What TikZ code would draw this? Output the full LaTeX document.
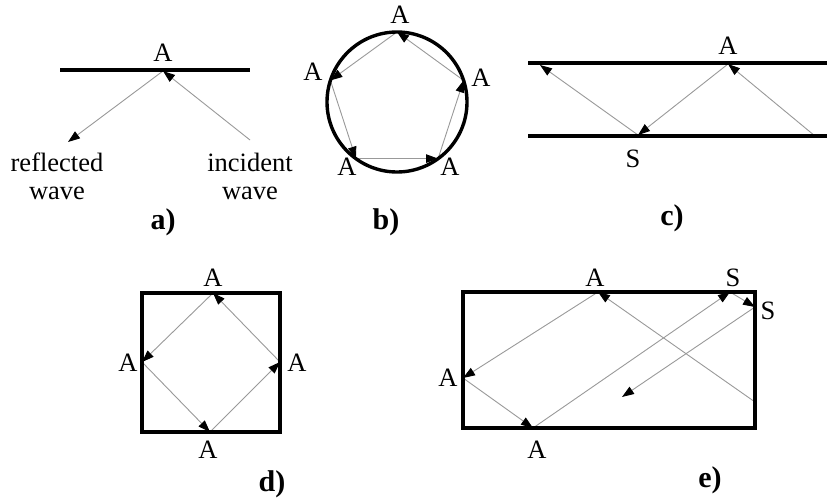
\documentclass[tikz,border=0pt]{standalone}
\usepackage{fontspec}
\setmainfont{Liberation Serif}
\usetikzlibrary{arrows.meta}
\begin{document}
\begin{tikzpicture}[x=1pt,y=-1pt,
  wall/.style={line width=3.4pt,black},
  ray/.style={line width=0.9pt,black!40,-{Triangle[length=12pt,width=8.5pt,color=black]}},
  lbl/.style={font=\fontsize{26.5}{28}\selectfont,inner sep=0pt},
  sublbl/.style={font=\fontsize{30}{32}\selectfont\bfseries,inner sep=0pt}]
\useasboundingbox (0,0) rectangle (827,501);
% ---------- a)
\coordinate (aL) at (60,70);
\coordinate (aR) at (250,70);
\coordinate (aA) at (163,71);
\coordinate (aInc) at (250,140);
\coordinate (aRef) at (68,142);
\draw[ray] (aInc) -- (aA);
\draw[ray] (aA) -- (aRef);
\draw[wall] (aL) -- (aR);
\node[lbl] (aAl) at (163,53) {A};
\node[lbl,align=center] (aRefl) at (57,176) {reflected\\wave};
\node[lbl,align=center] (aIncl) at (250,176) {incident\\wave};
\node[sublbl] (acap) at (163,222) {a)};
% ---------- b)
\coordinate (bC) at (397,102);
\path (bC) ++(0,-70) coordinate (bT);
\path (bC) ++(66.6,-21.6) coordinate (bR);
\path (bC) ++(41.1,56.6) coordinate (bBR);
\path (bC) ++(-41.1,56.6) coordinate (bBL);
\path (bC) ++(-66.6,-21.6) coordinate (bL);
\draw[ray] (bT) -- (bL);
\draw[ray] (bL) -- (bBL);
\draw[ray] (bBL) -- (bBR);
\draw[ray] (bBR) -- (bR);
\draw[ray] (bR) -- (bT);
\draw[wall] (bC) circle[radius=70];
\node[lbl] (bTl) at (400,15) {A};
\node[lbl] (bLl) at (313,72) {A};
\node[lbl] (bRl) at (481,78) {A};
\node[lbl] (bBLl) at (347,167) {A};
\node[lbl] (bBRl) at (450,167) {A};
\node[sublbl] (bcap) at (386,222) {b)};
% ---------- c)
\coordinate (cTL) at (528,63);
\coordinate (cTR) at (827,63);
\coordinate (cBL) at (528,136);
\coordinate (cBR) at (827,136);
\coordinate (cA) at (728,64);
\coordinate (cS) at (638,135);
\coordinate (cR) at (815,136);
\coordinate (cEnd) at (540,65);
\draw[ray] (cR) -- (cA);
\draw[ray] (cA) -- (cS);
\draw[ray] (cS) -- (cEnd);
\draw[wall] (cTL) -- (cTR);
\draw[wall] (cBL) -- (cBR);
\node[lbl] (cAl) at (728,46) {A};
\node[lbl] (cSl) at (633,159) {S};
\node[sublbl] (ccap) at (672,218) {c)};
% ---------- d)
\coordinate (dT) at (213,293);
\coordinate (dL) at (142,362);
\coordinate (dB) at (210,432);
\coordinate (dR) at (280,362);
\draw[ray] (dR) -- (dT);
\draw[ray] (dT) -- (dL);
\draw[ray] (dL) -- (dB);
\draw[ray] (dB) -- (dR);
\draw[wall] (142,293) rectangle (280,432);
\node[lbl] (dTl) at (213,278) {A};
\node[lbl] (dLl) at (128,363) {A};
\node[lbl] (dRl) at (297,363) {A};
\node[lbl] (dBl) at (208,450) {A};
\node[sublbl] (dcap) at (272,484) {d)};
% ---------- e)
\coordinate (eRin) at (755,402);
\coordinate (eA) at (598,292);
\coordinate (eLA) at (463,378);
\coordinate (eBA) at (533,428);
\coordinate (eS1) at (730,292);
\coordinate (eS2) at (755,307);
\coordinate (eEnd) at (622,397);
\draw[ray] (eRin) -- (eA);
\draw[ray] (eA) -- (eLA);
\draw[ray] (eLA) -- (eBA);
\draw[ray] (eBA) -- (eS1);
\draw[ray] (eS1) -- (eS2);
\draw[ray] (eS2) -- (eEnd);
\draw[wall] (463,292) rectangle (755,428);
\node[lbl] (eAl) at (595,278) {A};
\node[lbl] (eS1l) at (733,278) {S};
\node[lbl] (eS2l) at (768,311) {S};
\node[lbl] (eLAl) at (448,378) {A};
\node[lbl] (eBAl) at (537,450) {A};
\node[sublbl] (ecap) at (710,480) {e)};
\end{tikzpicture}
\end{document}
